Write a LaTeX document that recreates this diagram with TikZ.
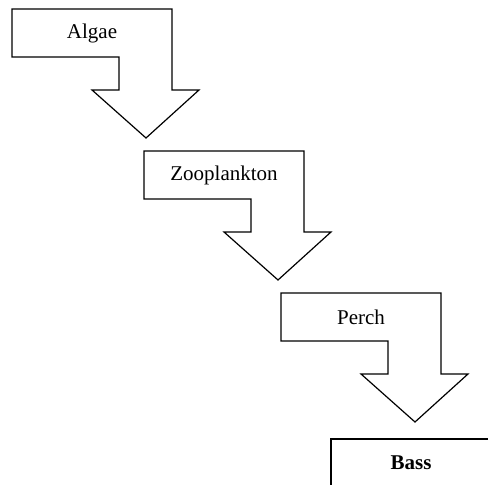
\documentclass[tikz,border=0pt]{standalone}
\usepackage{fontspec}
\setmainfont{Liberation Serif}

\begin{document}
\begin{tikzpicture}[x=0.5pt,y=-0.5pt,line width=0.6pt,
                    font=\fontsize{10.5}{12}\selectfont]
  \tikzstyle{every node}=[text=black,inner sep=0pt]
  \tikzstyle{level}=[draw=black,fill=none,line join=miter]

  \clip (0,0) rectangle (488,485);

  % one bent arrow per level of the chain
  \foreach \x/\y/\name/\txt in {12/9/algae/Algae,
                                144/151/zoo/Zooplankton,
                                281/293/perch/Perch} {
    \draw[level,shift={(\x,\y)}] (0,0) -- (160,0) -- (160,81) -- (187,81)
        -- (134,129) -- (80,81) -- (107,81) -- (107,48) -- (0,48) -- cycle;
    \node (\name) at ([shift={(80,24)}]\x,\y) {\txt};
  }

  % top of the food chain, runs off the page
  \node[level,minimum width=80pt,minimum height=24pt,font=\fontsize{10.5}{12}\selectfont\bfseries]
        (bass) at (411,463) {Bass};
\end{tikzpicture}
\end{document}
